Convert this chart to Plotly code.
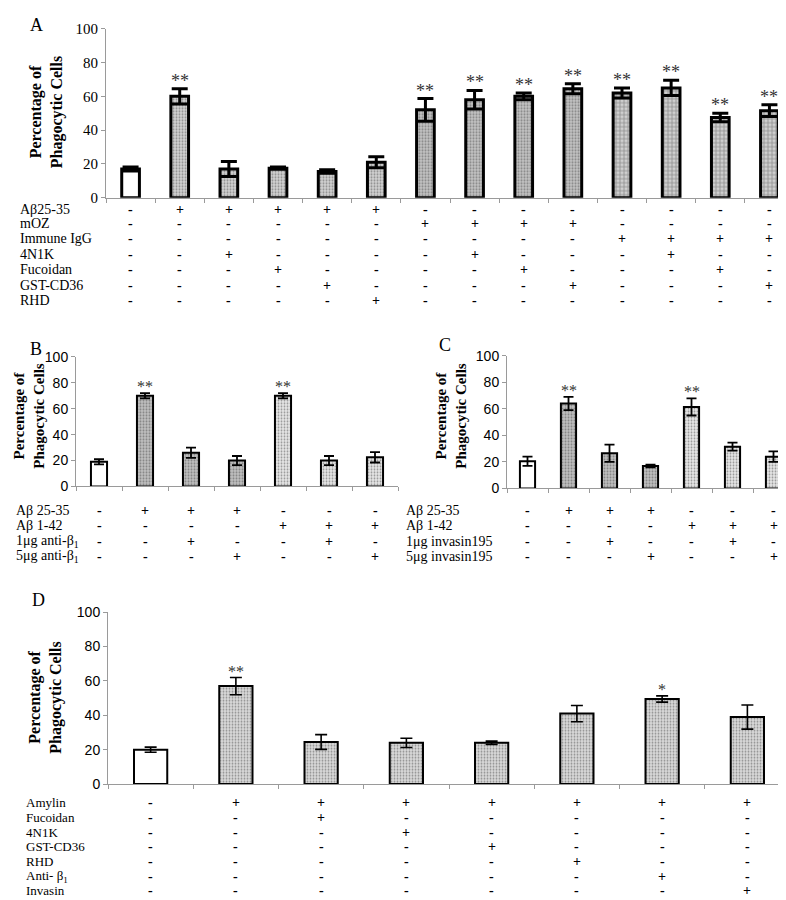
import plotly.graph_objects as go

W, H = 786, 900

# ---------------- data ----------------
A_cats = [f"A{i}" for i in range(1, 15)]
A_values = [17, 60, 17, 17.5, 15.5, 21, 52, 58, 60, 64.5, 62, 65, 47.5, 51.5]
A_errors = [1.2, 4.5, 4.5, 0.7, 1.0, 3.3, 6.7, 5.5, 2.0, 3.0, 3.0, 4.5, 2.5, 3.5]
A_sig = ["", "**", "", "", "", "", "**", "**", "**", "**", "**", "**", "**", "**"]
A_group = [0, 1, 1, 1, 1, 1, 2, 2, 2, 2, 3, 3, 3, 3]
A_rows = ["Aβ25-35", "mOZ", "Immune IgG", "4N1K", "Fucoidan", "GST-CD36", "RHD"]
A_signs = [
    "-+++++--------",
    "------++++----",
    "----------++++",
    "--+----+---+--",
    "---+----+---+-",
    "----+----+---+",
    "-----+--------",
]

B_cats = [f"B{i}" for i in range(1, 8)]
B_values = [19, 70, 26, 20, 70, 20, 22.5]
B_errors = [2, 2, 4, 3.5, 2, 3.5, 4]
B_sig = ["", "**", "", "", "**", "", ""]
B_group = [0, 1, 1, 1, 2, 2, 2]
B_rows = ["Aβ 25-35", "Aβ 1-42", "1μg anti-β<sub>1</sub>", "5μg anti-β<sub>1</sub>"]
B_signs = ["-+++---", "----+++", "--+--+-", "---+--+"]

C_cats = [f"C{i}" for i in range(1, 8)]
C_values = [20.5, 64, 26.5, 17, 61.5, 31.5, 24]
C_errors = [3.5, 5, 6.5, 1, 6.5, 3, 4]
C_sig = ["", "**", "", "", "**", "", ""]
C_group = [0, 1, 1, 1, 2, 2, 2]
C_rows = ["Aβ 25-35", "Aβ 1-42", "1μg invasin195", "5μg invasin195"]
C_signs = ["-+++---", "----+++", "--+--+-", "---+--+"]

D_cats = [f"D{i}" for i in range(1, 9)]
D_values = [20, 57, 24.5, 24, 24, 41, 49.5, 39]
D_errors = [1.5, 5, 4.3, 2.7, 1, 4.7, 1.8, 7]
D_sig = ["", "**", "", "", "", "", "*", ""]
D_group = [0, 1, 1, 1, 1, 1, 1, 1]
D_rows = ["Amylin", "Fucoidan", "4N1K", "GST-CD36", "RHD", "Anti- β<sub>1</sub>", "Invasin"]
D_signs = ["-+++++++", "--+-----", "---+----", "----+---", "-----+--", "------+-", "-------+"]

y_title = "Percentage of<br>Phagocytic Cells"

# ---------------- styling ----------------
SERIF = "Liberation Serif, Times New Roman, serif"
SANS = "Liberation Sans, Arial, sans-serif"
NARROW = "Liberation Sans Narrow, Arial Narrow, Liberation Sans, Arial, sans-serif"

# group styles: (shape, bg, fg, size, solidity)
STYLES_A = {0: ("", "white", "black", 4, 0.3),
            1: (".", "#d2d2d2", "#6e6e6e", 3, 0.35),
            2: (".", "#c4c4c4", "#5e5e5e", 3, 0.4),
            3: ("+", "#cfcfcf", "#5a5a5a", 4, 0.35)}
STYLES_BC = {0: ("", "white", "black", 4, 0.3),
             1: (".", "#c0c0c0", "#6a6a6a", 3, 0.35),
             2: (".", "#e6e6e6", "#8e8e8e", 3, 0.3)}
STYLES_D = {0: ("", "white", "black", 4, 0.3),
            1: (".", "#dadada", "#8a8a8a", 3, 0.3)}


def px2x(px):
    return px / W


def px2y(py):
    return 1 - py / H


fig = go.Figure()
annotations = []


def add_panel(idx, cats, values, errors, sig, group, styles, lw, bw, ew, et, star_size):
    xa = "x" if idx == 1 else f"x{idx}"
    ya = "y" if idx == 1 else f"y{idx}"
    fig.add_trace(go.Bar(
        x=cats, y=values, xaxis=xa, yaxis=ya, width=bw,
        marker=dict(
            color=[styles[g][1] for g in group],
            line=dict(color="black", width=lw),
            pattern=dict(
                shape=[styles[g][0] for g in group],
                fgcolor=[styles[g][2] for g in group],
                size=[styles[g][3] for g in group],
                solidity=[styles[g][4] for g in group],
                fillmode="overlay",
            ),
        ),
        error_y=dict(type="data", array=errors, visible=True, color="black",
                     thickness=et, width=ew),
        showlegend=False, hoverinfo="skip",
    ))
    for c, v, e, s in zip(cats, values, errors, sig):
        if s:
            annotations.append(dict(
                x=c, y=v + e, xref=xa, yref=ya, text=s, showarrow=False,
                yanchor="bottom", yshift=-4,
                font=dict(family=SERIF, size=star_size, color="#333333")))


def add_rows(idx, cats, rows, signs, ys, label_x, font_size, sign_size):
    xa = "x" if idx == 1 else f"x{idx}"
    for name, s, yy in zip(rows, signs, ys):
        annotations.append(dict(
            x=px2x(label_x), y=px2y(yy), xref="paper", yref="paper", text=name,
            showarrow=False, xanchor="left", yanchor="middle",
            font=dict(family=SERIF, size=font_size, color="black")))
        for c, ch in zip(cats, s):
            annotations.append(dict(
                x=c, y=px2y(yy), xref=xa, yref="paper",
                text=("<b>+</b>" if ch == "+" else "<b>-</b>"),
                showarrow=False, xanchor="center", yanchor="middle",
                font=dict(family=SERIF, size=sign_size, color="black")))


def add_title(cx, cy, size):
    annotations.append(dict(
        x=px2x(cx), y=px2y(cy), xref="paper", yref="paper", text=f"<b>{y_title}</b>",
        textangle=-90, showarrow=False, xanchor="center", yanchor="middle",
        font=dict(family=SERIF, size=size, color="black")))


def add_letter(cx, cy, letter):
    annotations.append(dict(
        x=px2x(cx), y=px2y(cy), xref="paper", yref="paper", text=letter,
        showarrow=False, xanchor="center", yanchor="middle",
        font=dict(family=SERIF, size=18, color="black")))


# Panel A
add_panel(1, A_cats, A_values, A_errors, A_sig, A_group, STYLES_A, 3, 0.36, 8, 3, 18)
add_rows(1, A_cats, A_rows, A_signs, [197, 211, 227, 243, 258, 274, 290], 10, 14, 14)
add_title(38, 98, 16)
add_letter(28, 9, "A")

# Panel B
add_panel(2, B_cats, B_values, B_errors, B_sig, B_group, STYLES_BC, 2, 0.35, 5, 1.8, 16)
add_rows(2, B_cats, B_rows, B_signs, [503, 519, 535, 550], 6, 14, 14)
add_title(21, 407, 15)
add_letter(28, 339, "B")

# Panel C
add_panel(3, C_cats, C_values, C_errors, C_sig, C_group, STYLES_BC, 2, 0.37, 5, 1.8, 16)
add_rows(3, C_cats, C_rows, C_signs, [503, 519, 535, 550], 396, 14, 14)
add_title(443, 407, 15)
add_letter(437, 335, "C")

# Panel D
add_panel(4, D_cats, D_values, D_errors, D_sig, D_group, STYLES_D, 2, 0.39, 6, 1.6, 16)
add_rows(4, D_cats, D_rows, D_signs, [801, 816, 831, 846, 861, 876, 890], 16, 13, 14)
add_title(38, 694, 16)
add_letter(30, 595, "D")


def xaxis(dom, n, anchor):
    return dict(domain=[px2x(dom[0]), px2x(dom[1])], anchor=anchor, type="category",
                range=[-0.5, n - 0.5], showticklabels=False, showline=True,
                linecolor="#9a9a9a", linewidth=1, ticks="outside", tickson="boundaries",
                ticklen=4, tickcolor="#9a9a9a", showgrid=False, zeroline=False,
                fixedrange=True)


def yaxis(dom, anchor, family, size):
    return dict(domain=[px2y(dom[1]), px2y(dom[0])], anchor=anchor, range=[0, 100],
                dtick=20, showline=True, linecolor="#9a9a9a", linewidth=1,
                ticks="outside", ticklen=4, tickcolor="#9a9a9a", showgrid=False,
                zeroline=False, tickfont=dict(family=family, size=size, color="black"),
                fixedrange=True)


fig.update_layout(
    width=W, height=H, margin=dict(l=0, r=0, t=0, b=0),
    paper_bgcolor="white", plot_bgcolor="white",
    xaxis=xaxis((98, 786), 14, "y"),
    yaxis=yaxis((13, 185), "x", SERIF, 15),
    xaxis2=xaxis((68, 390), 7, "y2"),
    yaxis2=yaxis((347, 479), "x2", SANS, 14),
    xaxis3=xaxis((499, 786), 7, "y3"),
    yaxis3=yaxis((346, 481), "x3", SANS, 14),
    xaxis4=xaxis((100, 782), 8, "y4"),
    yaxis4=yaxis((607, 782), "x4", NARROW, 14),
    annotations=annotations,
)

fig.write_html("out.html")
